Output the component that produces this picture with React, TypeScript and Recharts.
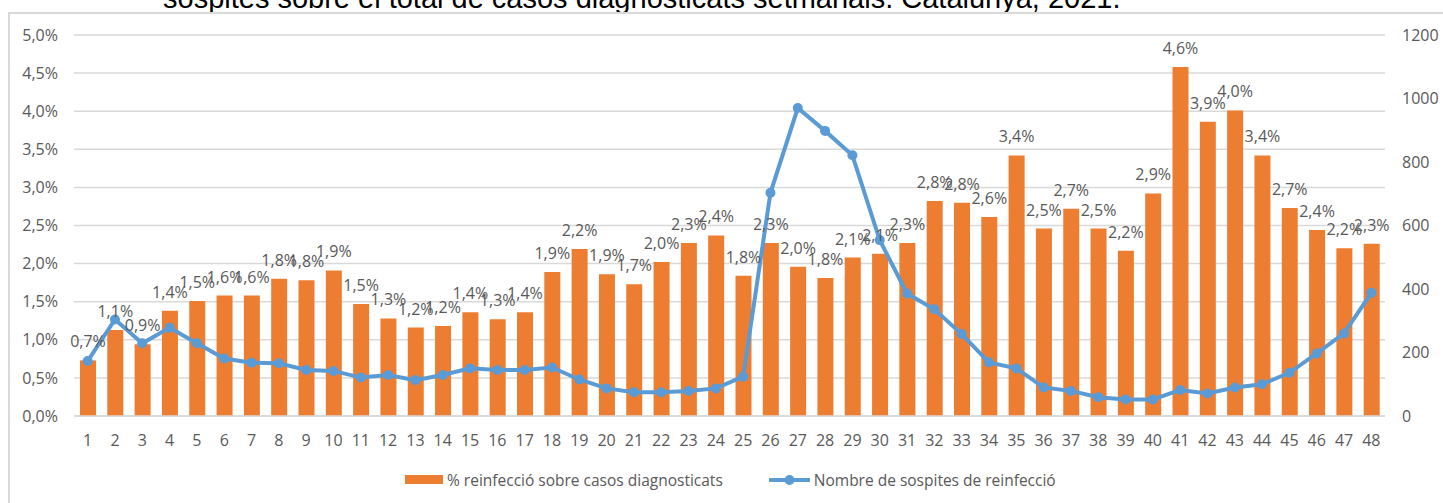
import React from 'react';
import {
  ComposedChart,
  Bar,
  Line,
  XAxis,
  YAxis,
  CartesianGrid,
  LabelList,
  Legend
} from 'recharts';

// setmanes epidemiològiques 2021
const weeks = [
  '1', '2', '3', '4', '5', '6', '7', '8', '9', '10', '11', '12',
  '13', '14', '15', '16', '17', '18', '19', '20', '21', '22', '23', '24',
  '25', '26', '27', '28', '29', '30', '31', '32', '33', '34', '35', '36',
  '37', '38', '39', '40', '41', '42', '43', '44', '45', '46', '47', '48'
];

// % reinfecció sobre casos diagnosticats
const reinfectionPct = [
  0.73, 1.13, 0.94, 1.38, 1.51, 1.58, 1.58, 1.80, 1.78, 1.91, 1.47, 1.28,
  1.16, 1.18, 1.36, 1.27, 1.36, 1.89, 2.19, 1.86, 1.73, 2.02, 2.27, 2.37,
  1.84, 2.27, 1.96, 1.81, 2.08, 2.13, 2.27, 2.82, 2.80, 2.61, 3.42, 2.46,
  2.72, 2.46, 2.17, 2.92, 4.58, 3.86, 4.01, 3.42, 2.73, 2.44, 2.20, 2.26
];

// nombre de sospites de reinfecció
const suspectCount = [
  173, 304, 229, 278, 229, 181, 168, 166, 145, 142, 121, 129,
  113, 129, 150, 145, 145, 153, 115, 87, 75, 75, 79, 87,
  124, 703, 970, 898, 821, 554, 386, 336, 258, 169, 150, 90,
  79, 59, 52, 52, 82, 71, 90, 100, 136, 197, 260, 388
];

const pctTicks = [0, 0.5, 1, 1.5, 2, 2.5, 3, 3.5, 4, 4.5, 5];
const countTicks = [0, 200, 400, 600, 800, 1000, 1200];

const BAR_NAME = '% reinfecció sobre casos diagnosticats';
const LINE_NAME = 'Nombre de sospites de reinfecció';
const TITLE = 'sospites sobre el total de casos diagnosticats setmanals. Catalunya, 2021.';

const ORANGE = '#ED7D31';
const BLUE = '#5B9BD5';
const GREY_TEXT = '#595959';
const GRID = '#d9d9d9';

const chartData = weeks.map((week, i) => ({
  week,
  pct: reinfectionPct[i],
  count: suspectCount[i]
}));

function formatPct(value: number): string {
  return `${Number(value).toFixed(1).replace('.', ',')}%`;
}

function ChartLegend() {
  return (
    <div
      style={{
        display: 'flex',
        alignItems: 'center',
        boxSizing: 'border-box',
        height: 40,
        paddingLeft: 405,
        paddingBottom: 7,
        fontSize: 15.5,
        color: GREY_TEXT,
        whiteSpace: 'nowrap'
      }}
    >
      <span style={{ display: 'inline-block', width: 38, height: 9, background: ORANGE, marginRight: 4 }} />
      <span>{BAR_NAME}</span>
      <svg width={41} height={12} style={{ marginLeft: 46, marginRight: 4 }}>
        <line x1={0} y1={6} x2={41} y2={6} stroke={BLUE} strokeWidth={4} />
        <circle cx={20.5} cy={6} r={5} fill={BLUE} />
      </svg>
      <span>{LINE_NAME}</span>
    </div>
  );
}

export default function App() {
  return (
    <div
      style={{
        position: 'absolute',
        top: 0,
        left: 0,
        width: 1443,
        height: 503,
        overflow: 'hidden',
        background: '#fff',
        fontFamily: '"Open Sans", sans-serif'
      }}
    >
      <div
        style={{
          position: 'absolute',
          left: 163,
          top: -16.5,
          fontFamily: '"Liberation Sans", Arial, sans-serif',
          fontSize: 29,
          lineHeight: '29px',
          color: '#000',
          whiteSpace: 'nowrap'
        }}
      >
        {TITLE}
      </div>
      <div
        style={{
          position: 'absolute',
          left: 8,
          top: 12,
          width: 1600,
          height: 600,
          borderTop: `2px solid ${GRID}`,
          borderLeft: `2px solid ${GRID}`
        }}
      />
      <div style={{ position: 'absolute', top: 0, left: 0 }}>
        <ComposedChart
          width={1443}
          height={503}
          data={chartData}
          margin={{ top: 35, right: 0, left: 0, bottom: 0 }}
        >
          <CartesianGrid yAxisId="pct" vertical={false} stroke={GRID} strokeWidth={1.5} />
          <XAxis
            dataKey="week"
            height={47}
            interval={0}
            tickLine={false}
            axisLine={{ stroke: GRID, strokeWidth: 1.5 }}
            tickMargin={13}
            tick={{ fill: GREY_TEXT, fontSize: 16 }}
          />
          <YAxis
            yAxisId="pct"
            width={74}
            domain={[0, 5]}
            ticks={pctTicks}
            tickFormatter={formatPct}
            axisLine={false}
            tickLine={false}
            tickMargin={10}
            tick={{ fill: GREY_TEXT, fontSize: 16 }}
          />
          <YAxis
            yAxisId="n"
            orientation="right"
            width={58}
            domain={[0, 1200]}
            ticks={countTicks}
            axisLine={false}
            tickLine={false}
            tickMargin={11}
            tick={{ fill: GREY_TEXT, fontSize: 16, textAnchor: 'start' }}
          />
          <Legend verticalAlign="bottom" height={40} content={() => <ChartLegend />} />
          <Bar
            yAxisId="pct"
            dataKey="pct"
            name={BAR_NAME}
            fill={ORANGE}
            barSize={16}
            isAnimationActive={false}
          >
            <LabelList
              dataKey="pct"
              position="top"
              offset={13}
              formatter={(v: any) => formatPct(v)}
              fill={GREY_TEXT}
              fontSize={16}
            />
          </Bar>
          <Line
            yAxisId="n"
            type="linear"
            dataKey="count"
            name={LINE_NAME}
            stroke={BLUE}
            strokeWidth={4}
            dot={{ r: 5, fill: BLUE, stroke: BLUE, strokeWidth: 0 }}
            activeDot={false}
            isAnimationActive={false}
          />
        </ComposedChart>
      </div>
    </div>
  );
}
